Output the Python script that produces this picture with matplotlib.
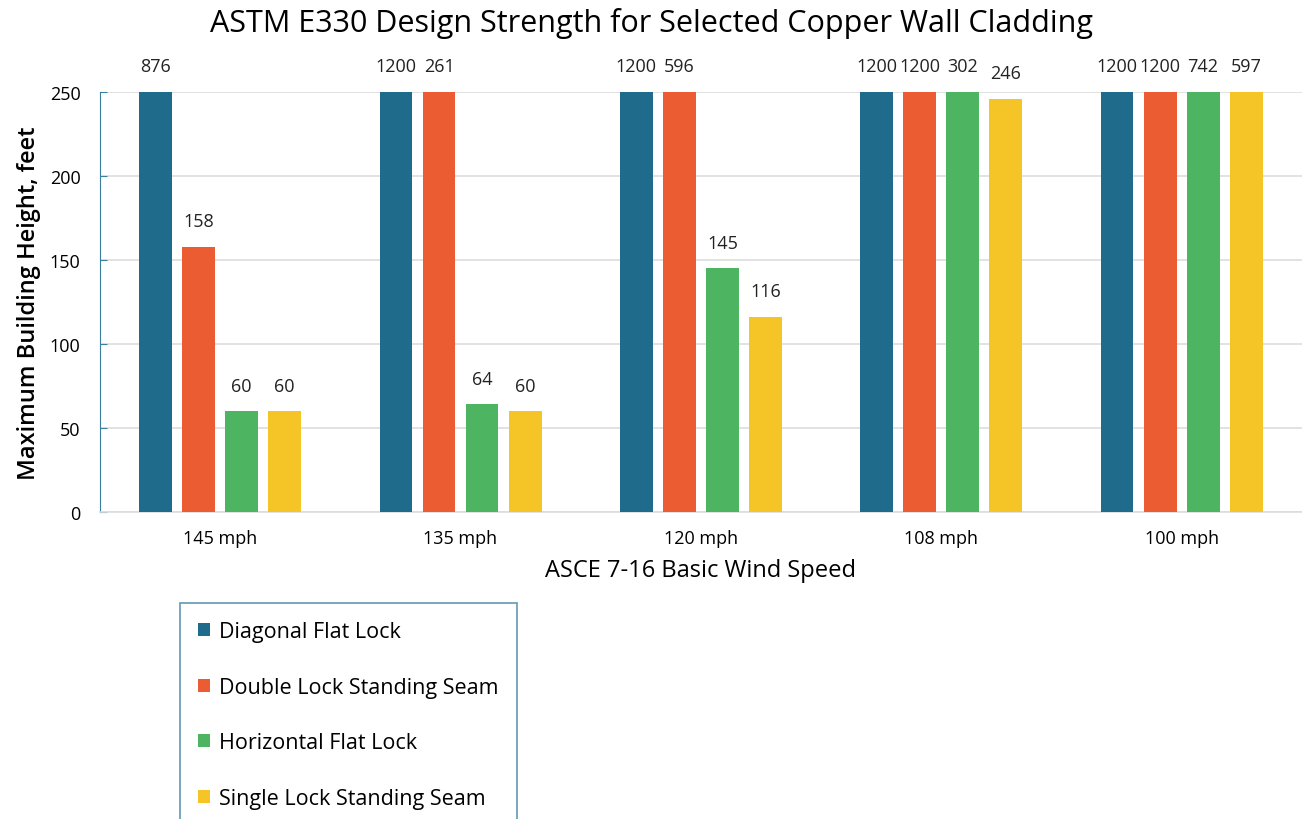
import numpy as np
import matplotlib.pyplot as plt

plt.rcParams['font.family'] = ['Liberation Sans Narrow', 'Open Sans', 'DejaVu Sans']

speeds = ['145 mph', '135 mph', '120 mph', '108 mph', '100 mph']
series = ['Diagonal Flat Lock', 'Double Lock Standing Seam',
          'Horizontal Flat Lock', 'Single Lock Standing Seam']
diagonal = [876, 1200, 1200, 1200, 1200]
double_lock = [158, 261, 596, 1200, 1200]
horizontal = [60, 64, 145, 302, 742]
single_lock = [60, 60, 116, 246, 597]
colors = ['#1f6b8c', '#eb5c33', '#4db562', '#f5c426']

ymax = 250

fig = plt.figure(figsize=(13.02, 8.2), dpi=100)
ax = fig.add_axes([0.0768, 0.3744, 0.923, 0.5122])

x = np.arange(len(speeds))
width = 0.137
pitch = 0.179
for i, (name, vals) in enumerate(zip(series, [diagonal, double_lock, horizontal, single_lock])):
    pos = x + (i - 1.5) * pitch
    shown = np.minimum(vals, ymax)
    ax.bar(pos, shown, width=width, color=colors[i], label=name, zorder=3)
    for p, s, v in zip(pos, shown, vals):
        ax.annotate(str(v), (p, s), xytext=(0, 12), textcoords='offset points',
                    ha='center', va='bottom', fontsize=13, color='#222222',
                    annotation_clip=False)

ax.set_xlim(-0.5, 4.5)
ax.set_ylim(0, ymax)
ax.set_yticks(range(0, 251, 50))
ax.set_xticks(x)
ax.set_xticklabels(speeds, fontsize=13)
ax.tick_params(axis='y', labelsize=13, direction='in', length=5, color='#3a7fa0', pad=14)
ax.tick_params(axis='x', length=0, pad=12)
ax.grid(axis='y', color='#dddddd', linewidth=1.2, zorder=0)
for s in ['top', 'right']:
    ax.spines[s].set_visible(False)
ax.spines['left'].set_color('#3a7fa0')
ax.spines['bottom'].set_color('#dddddd')
ax.spines['bottom'].set_linewidth(1.2)

ax.set_xlabel('ASCE 7-16 Basic Wind Speed', fontsize=17, fontweight='medium', labelpad=8)
ax.set_ylabel('Maximum Building Height, feet', fontsize=17, fontweight='semibold',
              labelpad=6)
fig.suptitle('ASTM E330 Design Strength for Selected Copper Wall Cladding',
             fontsize=22, fontweight='medium', y=0.99)

leg = fig.legend(loc='upper left', bbox_to_anchor=(180 / 1302, 1 - 604 / 820),
                 borderaxespad=0, fontsize=15.5, handlelength=0.55, handleheight=0.55,
                 handletextpad=0.4, labelspacing=1.6, borderpad=0.85, fancybox=False)
leg.get_frame().set_edgecolor('#3a7fa0')
leg.get_frame().set_linewidth(1.2)

fig.savefig('out.png', dpi=100)
